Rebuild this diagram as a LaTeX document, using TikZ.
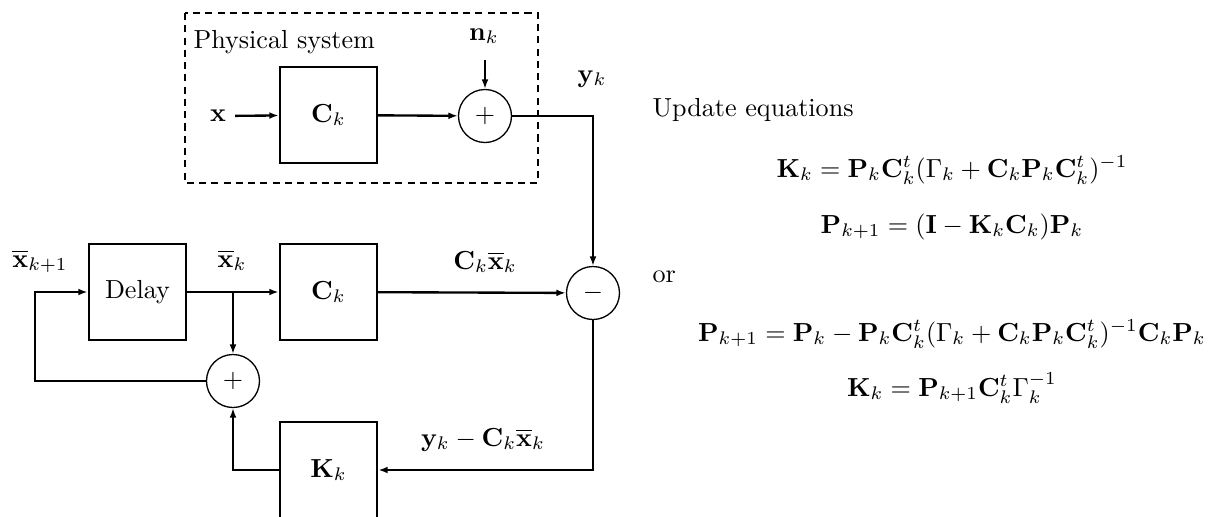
\documentclass[tikz,border=0pt]{standalone}
\usetikzlibrary{arrows.meta}
\tikzset{
  block/.style={draw, line width=0.9pt, minimum width=37.2pt, minimum height=36.8pt, inner sep=0pt},
  sumnode/.style={draw, circle, line width=0.5pt, minimum size=20.3pt, inner sep=0pt},
  arr/.style={line width=0.9pt, -{Latex[length=3.6pt,width=2.6pt]}},
  lbl/.style={anchor=base, inner sep=0pt},
  lblw/.style={anchor=base west, inner sep=0pt},
  dashbox/.style={draw, line width=0.9pt, dash pattern=on 2.7pt off 2pt}
}
\begin{document}
\begin{tikzpicture}[x=0.383pt,y=-0.383pt]
\useasboundingbox (0,0) rectangle (1218,516);
% physical system
\draw[dashbox] (185,13) rectangle (538,183);
\node[lblw] (phys) at (193,48) {Physical system};
\node (xin) at (218,116) {$\mathbf{x}$};
\node[block] (c1) at (328.5,115) {$\mathbf{C}_k$};
\node[sumnode] (s1) at (485,116) {$+$};
\node[lbl] (nk) at (484,40) {$\mathbf{n}_k$};
\coordinate (ntop) at (485,60);
\node[lbl] (yk) at (592,82) {$\mathbf{y}_k$};
% lower loop
\node[block] (delay) at (137.5,292) {Delay};
\node[block] (c2) at (328.5,292) {$\mathbf{C}_k$};
\node[sumnode] (m1) at (593,293) {$-$};
\node[sumnode] (s2) at (233,381) {$+$};
\node[block] (kb) at (328.5,470) {$\mathbf{K}_k$};
\coordinate (br) at (233,292);
\coordinate (fb) at (35,381);
\node[lbl] (xkp) at (40,267) {$\overline{\mathbf{x}}_{k+1}$};
\node[lbl] (xk) at (232,267) {$\overline{\mathbf{x}}_k$};
\node[lbl] (cx) at (485,269) {$\mathbf{C}_k\overline{\mathbf{x}}_k$};
\node[lbl] (err) at (483,446) {$\mathbf{y}_k-\mathbf{C}_k\overline{\mathbf{x}}_k$};
% connectors
\draw[arr] (xin) -- (c1);
\draw[arr] (c1) -- (s1);
\draw[arr] (ntop) -- (s1);
\draw[arr] (s1) -| (m1);
\draw[arr] (c2) -- (m1);
\draw[arr] (m1) |- (kb);
\draw[arr] (kb) -| (s2);
\draw[arr] (delay) -- (c2);
\draw[arr] (br) -- (s2);
\draw[arr] (s2) -- (fb) |- (delay);
% equations
\node[lblw] (upd) at (652,116) {Update equations};
\node[lbl] (e1) at (952,177) {$\mathbf{K}_k=\mathbf{P}_k\mathbf{C}_k^t(\Gamma_k+\mathbf{C}_k\mathbf{P}_k\mathbf{C}_k^t)^{-1}$};
\node[lbl] (e2) at (952,233) {$\mathbf{P}_{k+1}=(\mathbf{I}-\mathbf{K}_k\mathbf{C}_k)\mathbf{P}_k$};
\node[lblw] (or) at (652,282) {or};
\node[lbl] (e3) at (952,341) {$\mathbf{P}_{k+1}=\mathbf{P}_k-\mathbf{P}_k\mathbf{C}_k^t(\Gamma_k+\mathbf{C}_k\mathbf{P}_k\mathbf{C}_k^t)^{-1}\mathbf{C}_k\mathbf{P}_k$};
\node[lbl] (e4) at (952,396) {$\mathbf{K}_k=\mathbf{P}_{k+1}\mathbf{C}_k^t\Gamma_k^{-1}$};
\end{tikzpicture}
\end{document}
